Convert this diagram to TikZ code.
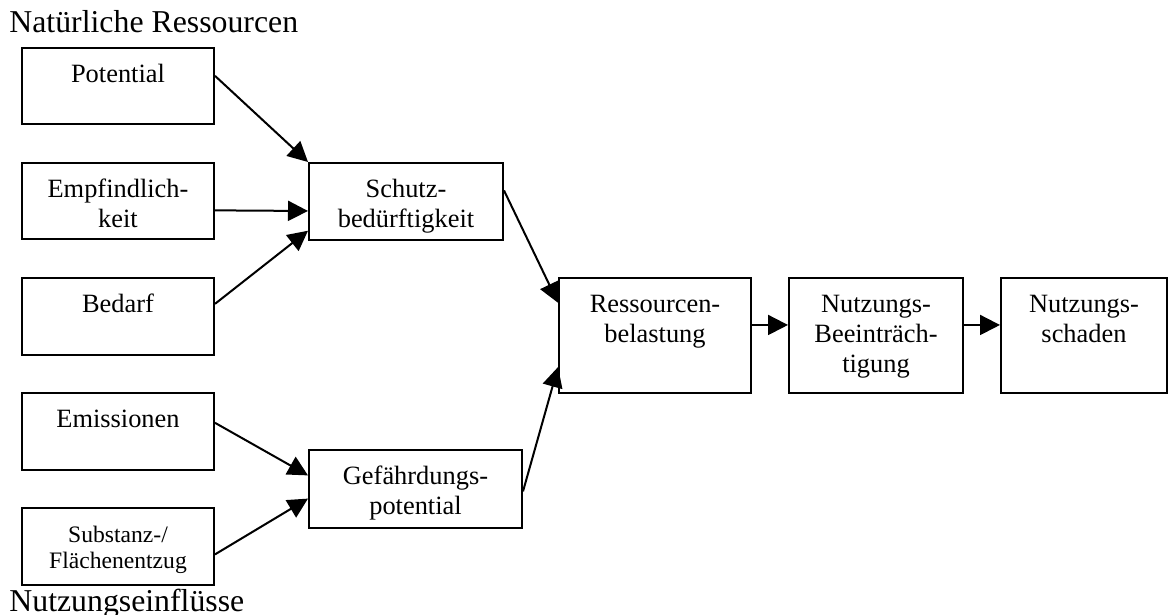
\documentclass[tikz,border=0pt]{standalone}
\usepackage{fontspec}
\setmainfont{Liberation Serif}
\usepackage{tikz}
\usetikzlibrary{calc}
\usetikzlibrary{arrows.meta}

\newcommand{\kasten}[3]{\parbox[c][#2][t]{#1}{\centering\rule{0pt}{17pt}#3}}

\tikzset{
  kasten/.style={draw, line width=1pt, inner sep=0pt, anchor=north west,
    font=\fontsize{13.2}{15}\selectfont},
  titel/.style={anchor=base west, inner sep=0pt, font=\fontsize{15.9}{18}\selectfont},
  pfeil/.style={-{Triangle[length=10pt,width=10pt]}, line width=1pt}
}

\begin{document}
\begin{tikzpicture}[x=0.5pt,y=-0.5pt]
   \useasboundingbox (0,0) rectangle (1168,615);

   \node[titel] (nr) at (9,33) {Natürliche Ressourcen};
   \node[titel] (ne) at (9,611) {Nutzungseinflüsse};

   \node[kasten] (pot) at (21,47) {\kasten{96pt}{38pt}{Potential}};
   \node[kasten] (emp) at (21,162) {\kasten{96pt}{38pt}{Empfindlich-\\keit}};
   \node[kasten] (bed) at (21,277) {\kasten{96pt}{38.5pt}{Bedarf}};
   \node[kasten] (emi) at (21,392) {\kasten{96pt}{38.5pt}{Emissionen}};
   \node[kasten, font=\fontsize{11.8}{13}\selectfont] (sub) at (21,507)
      {\kasten{96pt}{38.5pt}{Substanz-/\\Flächenentzug}};

   \node[kasten] (sb) at (308,162) {\kasten{97pt}{38.5pt}{Schutz-\\bedürftigkeit}};
   \node[kasten] (gp) at (308,449) {\kasten{106.5pt}{39pt}{Gefährdungs-\\potential}};

   \node[kasten] (rb) at (558,277) {\kasten{96pt}{57.5pt}{Ressourcen-\\belastung}};
   \node[kasten] (nb) at (788,277) {\kasten{87pt}{57.5pt}{Nutzungs-\\Beeinträch-\\tigung}};
   \node[kasten] (ns) at (1000,277) {\kasten{83pt}{57.5pt}{Nutzungs-\\schaden}};

   % Schutzbeduerftigkeit
   \draw[pfeil] ($(pot.north east)!0.37!(pot.south east)$) -- (sb.north west);
   \draw[pfeil] ($(emp.north east)!0.62!(emp.south east)$) -- ($(sb.north west)!0.62!(sb.south west)$);
   \draw[pfeil] ($(bed.north east)!0.34!(bed.south east)$) -- ($(sb.north west)!0.87!(sb.south west)$);

   % Gefaehrdungspotential
   \draw[pfeil] ($(emi.north east)!0.39!(emi.south east)$) -- ($(gp.north west)!0.33!(gp.south west)$);
   \draw[pfeil] ($(sub.north east)!0.6!(sub.south east)$) -- ($(gp.north west)!0.62!(gp.south west)$);

   % Belastung und Folgen
   \draw[pfeil] ($(sb.north east)!0.36!(sb.south east)$) -- ($(rb.north west)!0.22!(rb.south west)$);
   \draw[pfeil] ($(gp.north east)!0.53!(gp.south east)$) -- ($(rb.north west)!0.77!(rb.south west)$);
   \draw[pfeil] ($(rb.north east)!0.41!(rb.south east)$) -- ($(nb.north west)!0.41!(nb.south west)$);
   \draw[pfeil] ($(nb.north east)!0.41!(nb.south east)$) -- ($(ns.north west)!0.41!(ns.south west)$);

\end{tikzpicture}
\end{document}
